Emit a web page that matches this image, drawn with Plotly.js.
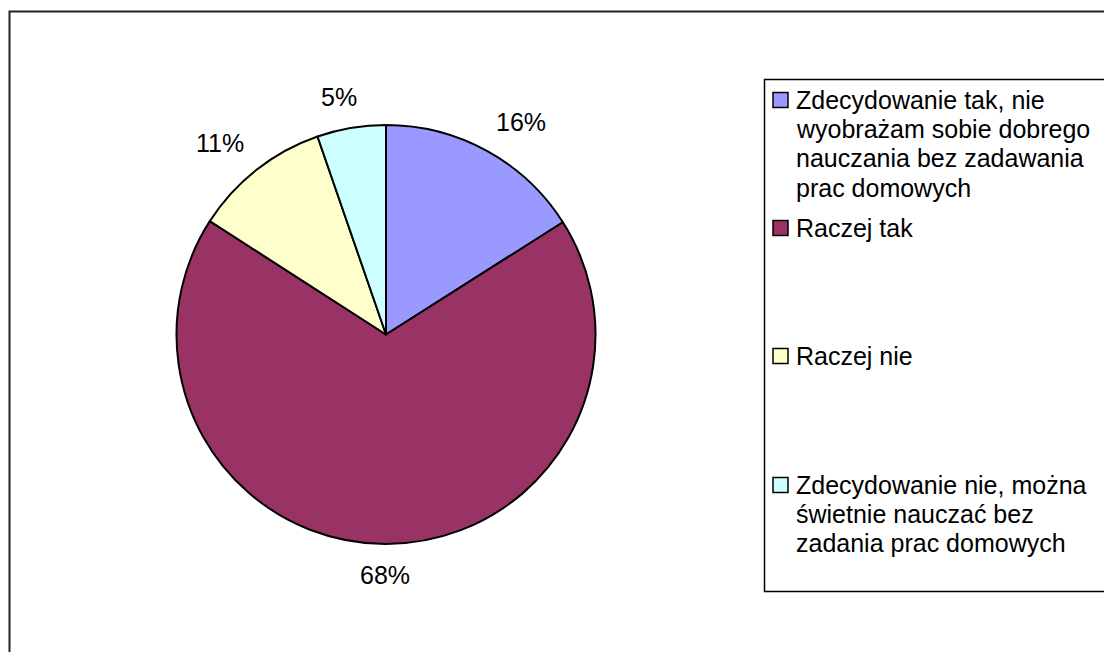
<!DOCTYPE html>
<html>
<head>
<meta charset="utf-8">
<script src="https://cdn.plot.ly/plotly-3.0.1.min.js"></script>
<style>html,body{margin:0;padding:0;background:#fff;}#chart{width:1104px;height:652px;}</style>
</head>
<body>
<div id="chart"></div>
<script>
// ---- data ----
var categories = [
  "Zdecydowanie tak, nie<br>wyobrażam sobie dobrego<br>nauczania bez zadawania<br>prac domowych",
  "Raczej tak",
  "Raczej nie",
  "Zdecydowanie nie, można<br>świetnie nauczać bez<br>zadania prac domowych"
];
var values = [16, 68.1, 10.6, 5.3];
var sliceColors = ["#9999FF", "#993366", "#FFFFCC", "#CCFFFF"];

// ---- layout constants (pixels) ----
var W = 1104, H = 652;
var FONT = "Liberation Sans, Arial, sans-serif";
var FS = 25;
function px(x){ return x / W; }
function py(y){ return 1 - y / H; }

var CX = 386, CY = 334.5, R = 209.5;

var pie = {
  type: "pie",
  labels: categories,
  values: values,
  sort: false,
  direction: "clockwise",
  rotation: 0,
  marker: { colors: sliceColors, line: { color: "#000", width: 2 } },
  textinfo: "none",
  showlegend: false,
  hoverinfo: "none",
  domain: { x: [px(CX - R), px(CX + R)], y: [py(CY + R), py(CY - R)] }
};

var shapes = [
  // outer frame
  { type: "rect", xref: "paper", yref: "paper", x0: px(9.5), x1: px(1110), y0: py(660), y1: py(11.5),
    line: { color: "#222", width: 2 }, fillcolor: "rgba(0,0,0,0)", layer: "below" },
  // legend box
  { type: "rect", xref: "paper", yref: "paper", x0: px(764.5), x1: px(1110), y0: py(591.5), y1: py(79.5),
    line: { color: "#000", width: 1.5 }, fillcolor: "rgba(0,0,0,0)" }
];
var annotations = [];

// percentage labels placed outside each slice, from the slice mid-angle
var total = values.reduce(function(a, b){ return a + b; }, 0);
var cum = 0;
var GAP = 18.5, TH = 25;
function clamp(v){ return Math.max(-1, Math.min(1, v)); }
values.forEach(function(v){
  var mid = (cum + v / 2) / total * 2 * Math.PI;
  cum += v;
  var txt = Math.round(v / total * 100) + "%";
  var tw = ((txt.length - 1) * 0.556 + 0.889) * FS;
  var s = Math.sin(mid), c = Math.cos(mid);
  var ax = CX + (R + GAP) * s, ay = CY - (R + GAP) * c;
  var lx = ax + clamp(s * 3) * tw / 2;
  var ly = ay - clamp(c * 3) * TH / 2;
  annotations.push({ xref: "paper", yref: "paper", x: px(lx), y: py(ly),
    xanchor: "center", yanchor: "middle", showarrow: false, text: txt,
    font: { family: FONT, size: FS, color: "#000" } });
});

// legend
var itemTop = [100, 228, 356, 485];
var lineH = 29.2;
categories.forEach(function(cat, i){
  var yc = itemTop[i];
  shapes.push({ type: "rect", xref: "paper", yref: "paper",
    x0: px(773), x1: px(788), y0: py(yc + 7.5), y1: py(yc - 7.5),
    line: { color: "#000", width: 1.5 }, fillcolor: sliceColors[i] });
  cat.split("<br>").forEach(function(line, j){
    annotations.push({ xref: "paper", yref: "paper", x: px(793.5), y: py(yc + j * lineH),
      xanchor: "left", yanchor: "middle", showarrow: false, text: line,
      font: { family: FONT, size: FS, color: "#000" } });
  });
});

var layout = {
  width: W, height: H,
  margin: { l: 0, r: 0, t: 0, b: 0 },
  paper_bgcolor: "#fff",
  plot_bgcolor: "#fff",
  font: { family: FONT, size: FS, color: "#000" },
  shapes: shapes,
  annotations: annotations
};

Plotly.newPlot("chart", [pie], layout, { displayModeBar: false, staticPlot: true });
</script>
</body>
</html>
